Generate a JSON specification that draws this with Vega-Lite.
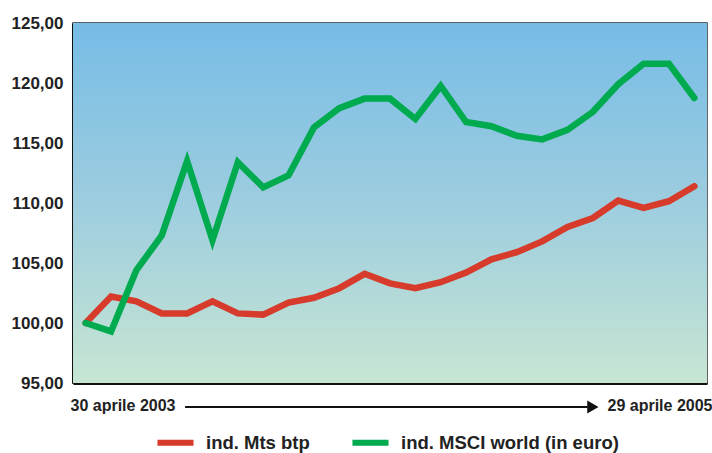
{
  "$schema": "https://vega.github.io/schema/vega-lite/v6.json",
  "autosize": {"type": "none"},
  "padding": {"left": 73, "top": 23, "right": 5, "bottom": 70},
  "width": 634,
  "height": 360,
  "background": "white",
  "config": {
    "view": {"stroke": "#333333", "strokeWidth": 1.5},
    "font": "Liberation Sans"
  },
  "datasets": {
    "series": [
      {"i": 0, "serie": "ind. Mts btp", "value": 100.0},
      {"i": 1, "serie": "ind. Mts btp", "value": 102.2},
      {"i": 2, "serie": "ind. Mts btp", "value": 101.8},
      {"i": 3, "serie": "ind. Mts btp", "value": 100.8},
      {"i": 4, "serie": "ind. Mts btp", "value": 100.8},
      {"i": 5, "serie": "ind. Mts btp", "value": 101.8},
      {"i": 6, "serie": "ind. Mts btp", "value": 100.8},
      {"i": 7, "serie": "ind. Mts btp", "value": 100.7},
      {"i": 8, "serie": "ind. Mts btp", "value": 101.7},
      {"i": 9, "serie": "ind. Mts btp", "value": 102.1},
      {"i": 10, "serie": "ind. Mts btp", "value": 102.9},
      {"i": 11, "serie": "ind. Mts btp", "value": 104.1},
      {"i": 12, "serie": "ind. Mts btp", "value": 103.3},
      {"i": 13, "serie": "ind. Mts btp", "value": 102.9},
      {"i": 14, "serie": "ind. Mts btp", "value": 103.4},
      {"i": 15, "serie": "ind. Mts btp", "value": 104.2},
      {"i": 16, "serie": "ind. Mts btp", "value": 105.3},
      {"i": 17, "serie": "ind. Mts btp", "value": 105.9},
      {"i": 18, "serie": "ind. Mts btp", "value": 106.8},
      {"i": 19, "serie": "ind. Mts btp", "value": 108.0},
      {"i": 20, "serie": "ind. Mts btp", "value": 108.75},
      {"i": 21, "serie": "ind. Mts btp", "value": 110.2},
      {"i": 22, "serie": "ind. Mts btp", "value": 109.6},
      {"i": 23, "serie": "ind. Mts btp", "value": 110.15},
      {"i": 24, "serie": "ind. Mts btp", "value": 111.4},
      {"i": 0, "serie": "ind. MSCI world (in euro)", "value": 100.0},
      {"i": 1, "serie": "ind. MSCI world (in euro)", "value": 99.3},
      {"i": 2, "serie": "ind. MSCI world (in euro)", "value": 104.4},
      {"i": 3, "serie": "ind. MSCI world (in euro)", "value": 107.3},
      {"i": 4, "serie": "ind. MSCI world (in euro)", "value": 113.5},
      {"i": 5, "serie": "ind. MSCI world (in euro)", "value": 106.9},
      {"i": 6, "serie": "ind. MSCI world (in euro)", "value": 113.4},
      {"i": 7, "serie": "ind. MSCI world (in euro)", "value": 111.3},
      {"i": 8, "serie": "ind. MSCI world (in euro)", "value": 112.3},
      {"i": 9, "serie": "ind. MSCI world (in euro)", "value": 116.3},
      {"i": 10, "serie": "ind. MSCI world (in euro)", "value": 117.9},
      {"i": 11, "serie": "ind. MSCI world (in euro)", "value": 118.7},
      {"i": 12, "serie": "ind. MSCI world (in euro)", "value": 118.7},
      {"i": 13, "serie": "ind. MSCI world (in euro)", "value": 117.0},
      {"i": 14, "serie": "ind. MSCI world (in euro)", "value": 119.75},
      {"i": 15, "serie": "ind. MSCI world (in euro)", "value": 116.75},
      {"i": 16, "serie": "ind. MSCI world (in euro)", "value": 116.4},
      {"i": 17, "serie": "ind. MSCI world (in euro)", "value": 115.6},
      {"i": 18, "serie": "ind. MSCI world (in euro)", "value": 115.3},
      {"i": 19, "serie": "ind. MSCI world (in euro)", "value": 116.1},
      {"i": 20, "serie": "ind. MSCI world (in euro)", "value": 117.6},
      {"i": 21, "serie": "ind. MSCI world (in euro)", "value": 119.9},
      {"i": 22, "serie": "ind. MSCI world (in euro)", "value": 121.6},
      {"i": 23, "serie": "ind. MSCI world (in euro)", "value": 121.6},
      {"i": 24, "serie": "ind. MSCI world (in euro)", "value": 118.75}
    ]
  },
  "layer": [
    {
      "data": {"values": [{}]},
      "mark": {
        "type": "rect",
        "fill": {
          "gradient": "linear", "x1": 0, "y1": 0, "x2": 0, "y2": 1,
          "stops": [
            {"offset": 0, "color": "#77BCE6"},
            {"offset": 0.5, "color": "#9DCDDF"},
            {"offset": 1, "color": "#C7E6D3"}
          ]
        }
      },
      "encoding": {
        "x": {"datum": -0.5, "type": "quantitative", "scale": {"domain": [-0.5, 24.5], "nice": false, "zero": false}},
        "x2": {"datum": 24.5},
        "y": {"datum": 95, "type": "quantitative", "scale": {"domain": [95, 125], "nice": false, "zero": false}},
        "y2": {"datum": 125}
      }
    },
    {
      "data": {"name": "series"},
      "mark": {"type": "line", "strokeWidth": 6.5, "strokeJoin": "miter", "strokeCap": "round"},
      "encoding": {
        "x": {
          "field": "i", "type": "quantitative",
          "scale": {"domain": [-0.5, 24.5], "nice": false, "zero": false},
          "axis": {
            "values": [-0.5, 24.5],
            "title": null,
            "grid": false,
            "ticks": false,
            "domainColor": "#111111",
            "domainWidth": 3,
            "labelExpr": "datum.value < 0 ? '30 aprile 2003' : '29 aprile 2005'",
            "labelAlign": {"condition": {"test": "datum.value < 0", "value": "left"}, "value": "right"},
            "labelOffset": {"condition": {"test": "datum.value < 0", "value": -3}, "value": 5},
            "labelFont": "Liberation Sans",
            "labelFontWeight": "bold",
            "labelFontSize": 16,
            "labelColor": "#222222",
            "labelPadding": 14,
            "labelFlush": false,
            "labelOverlap": false
          }
        },
        "y": {
          "field": "value", "type": "quantitative",
          "scale": {"domain": [95, 125], "nice": false, "zero": false},
          "axis": {
            "values": [95, 100, 105, 110, 115, 120, 125],
            "title": null,
            "grid": true,
            "gridColor": "#4A5868",
            "gridWidth": 1.5,
            "ticks": false,
            "domainColor": "#111111",
            "domainWidth": 3,
            "labelExpr": "replace(format(datum.value, '.2f'), '.', ',')",
            "labelFont": "Liberation Sans",
            "labelFontWeight": "bold",
            "labelFontSize": 17,
            "labelColor": "#222222",
            "labelPadding": 10
          }
        },
        "color": {
          "field": "serie", "type": "nominal",
          "sort": ["ind. Mts btp", "ind. MSCI world (in euro)"],
          "scale": {"domain": ["ind. Mts btp", "ind. MSCI world (in euro)"], "range": ["#D63B2C", "#00AA4F"]},
          "legend": {
            "title": null,
            "orient": "none",
            "direction": "horizontal",
            "legendX": 81,
            "legendY": 398,
            "symbolType": "stroke",
            "symbolStrokeWidth": 6,
            "symbolSize": 1300,
            "labelFont": "Liberation Sans",
            "labelFontWeight": "bold",
            "labelFontSize": 18.5,
            "labelColor": "#222222",
            "labelOffset": 9,
            "columnPadding": 30,
            "labelLimit": 400
          }
        }
      }
    },
    {
      "data": {"values": [{}]},
      "mark": {"type": "rule", "color": "#111111", "strokeWidth": 2},
      "encoding": {
        "x": {"datum": 3.92, "type": "quantitative"},
        "x2": {"datum": 19.8},
        "y": {"datum": 93.0, "type": "quantitative"}
      }
    },
    {
      "data": {"values": [{}]},
      "mark": {"type": "point", "shape": "triangle-right", "filled": true, "color": "#111111", "size": 170, "opacity": 1},
      "encoding": {
        "x": {"datum": 20.0, "type": "quantitative"},
        "y": {"datum": 93.0, "type": "quantitative"}
      }
    }
  ]
}
